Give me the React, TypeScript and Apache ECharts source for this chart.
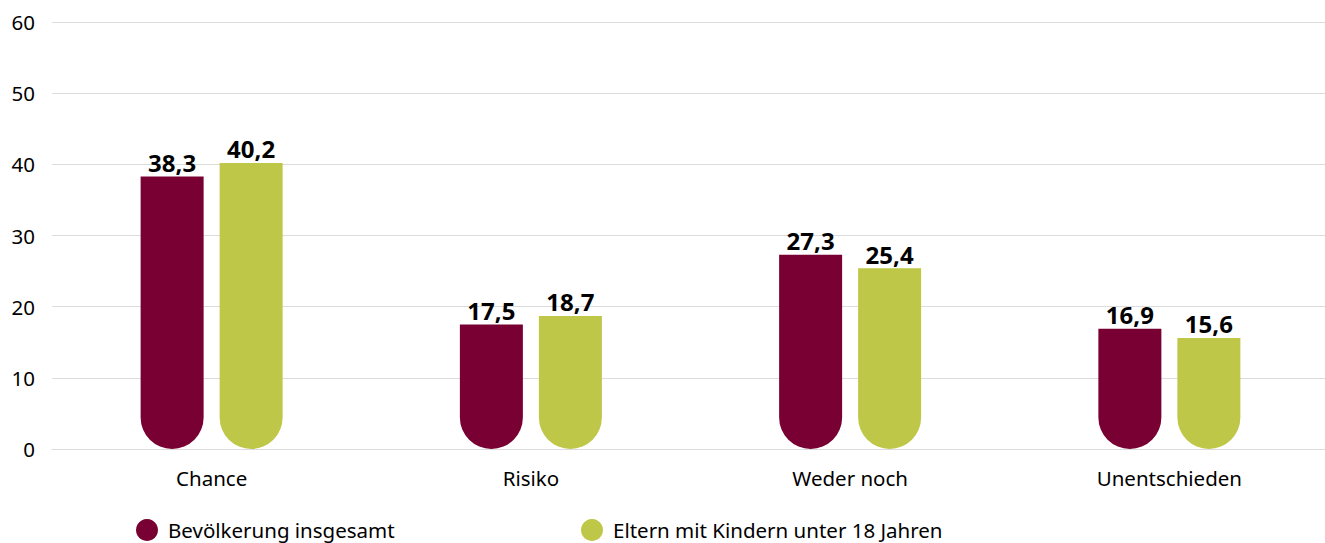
import React, { useEffect, useRef } from "react";
import * as echarts from "echarts";

const categories = ["Chance", "Risiko", "Weder noch", "Unentschieden"];
const seriesNames = ["Bevölkerung insgesamt", "Eltern mit Kindern unter 18 Jahren"];
const bevoelkerung = [38.3, 17.5, 27.3, 16.9];
const eltern = [40.2, 18.7, 25.4, 15.6];
const colors = ["#780032", "#BFC748"];
const FONT = "'Noto Sans', sans-serif";

export default function App() {
  const ref = useRef<HTMLDivElement>(null);
  useEffect(() => {
    const chart = echarts.init(ref.current!, null, { renderer: "svg" });
    const fmt = (p: any) => String(p.value).replace(".", ",");
    const mkSeries = (name: string, data: number[], color: string) => ({
      name,
      type: "bar",
      data,
      barWidth: 63,
      barGap: "25.4%",
      itemStyle: { color, borderRadius: [0, 0, 31.5, 31.5] },
      label: {
        show: true,
        position: "top",
        distance: 2,
        formatter: fmt,
        fontFamily: FONT,
        fontSize: 24,
        fontWeight: "bold",
        color: "#000",
      },
    });
    const legendBase = {
      top: 514,
      icon: "circle",
      itemWidth: 22,
      itemHeight: 22,
      itemGap: 10,
      textStyle: { fontFamily: FONT, fontSize: 20.5, color: "#000", padding: [0, 0, 0, 5] },
      selectedMode: false,
    };
    chart.setOption({
      animation: false,
      textStyle: { fontFamily: FONT },
      grid: { left: 52, right: 0, top: 22, bottom: 94 },
      legend: [
        { ...legendBase, data: [seriesNames[0]], left: 131 },
        { ...legendBase, data: [seriesNames[1]], left: 576 },
      ],
      xAxis: {
        type: "category",
        data: categories,
        axisTick: { show: false },
        axisLine: { lineStyle: { color: "#dcdcdc" } },
        axisLabel: { fontFamily: FONT, fontSize: 20.5, color: "#000", margin: 18 },
      },
      yAxis: {
        type: "value",
        min: 0,
        max: 60,
        interval: 10,
        axisLine: { show: false },
        axisTick: { show: false },
        splitLine: { lineStyle: { color: "#dcdcdc" } },
        axisLabel: { fontFamily: FONT, fontSize: 20.5, color: "#000", margin: 17 },
      },
      series: [
        mkSeries(seriesNames[0], bevoelkerung, colors[0]),
        mkSeries(seriesNames[1], eltern, colors[1]),
      ],
    });
    return () => chart.dispose();
  }, []);
  return (
    <div
      style={{ position: "fixed", left: 0, top: 0, width: 1325, height: 543, overflow: "hidden", background: "#fff" }}
    >
      <div ref={ref} style={{ width: 1329, height: 543 }} />
    </div>
  );
}
